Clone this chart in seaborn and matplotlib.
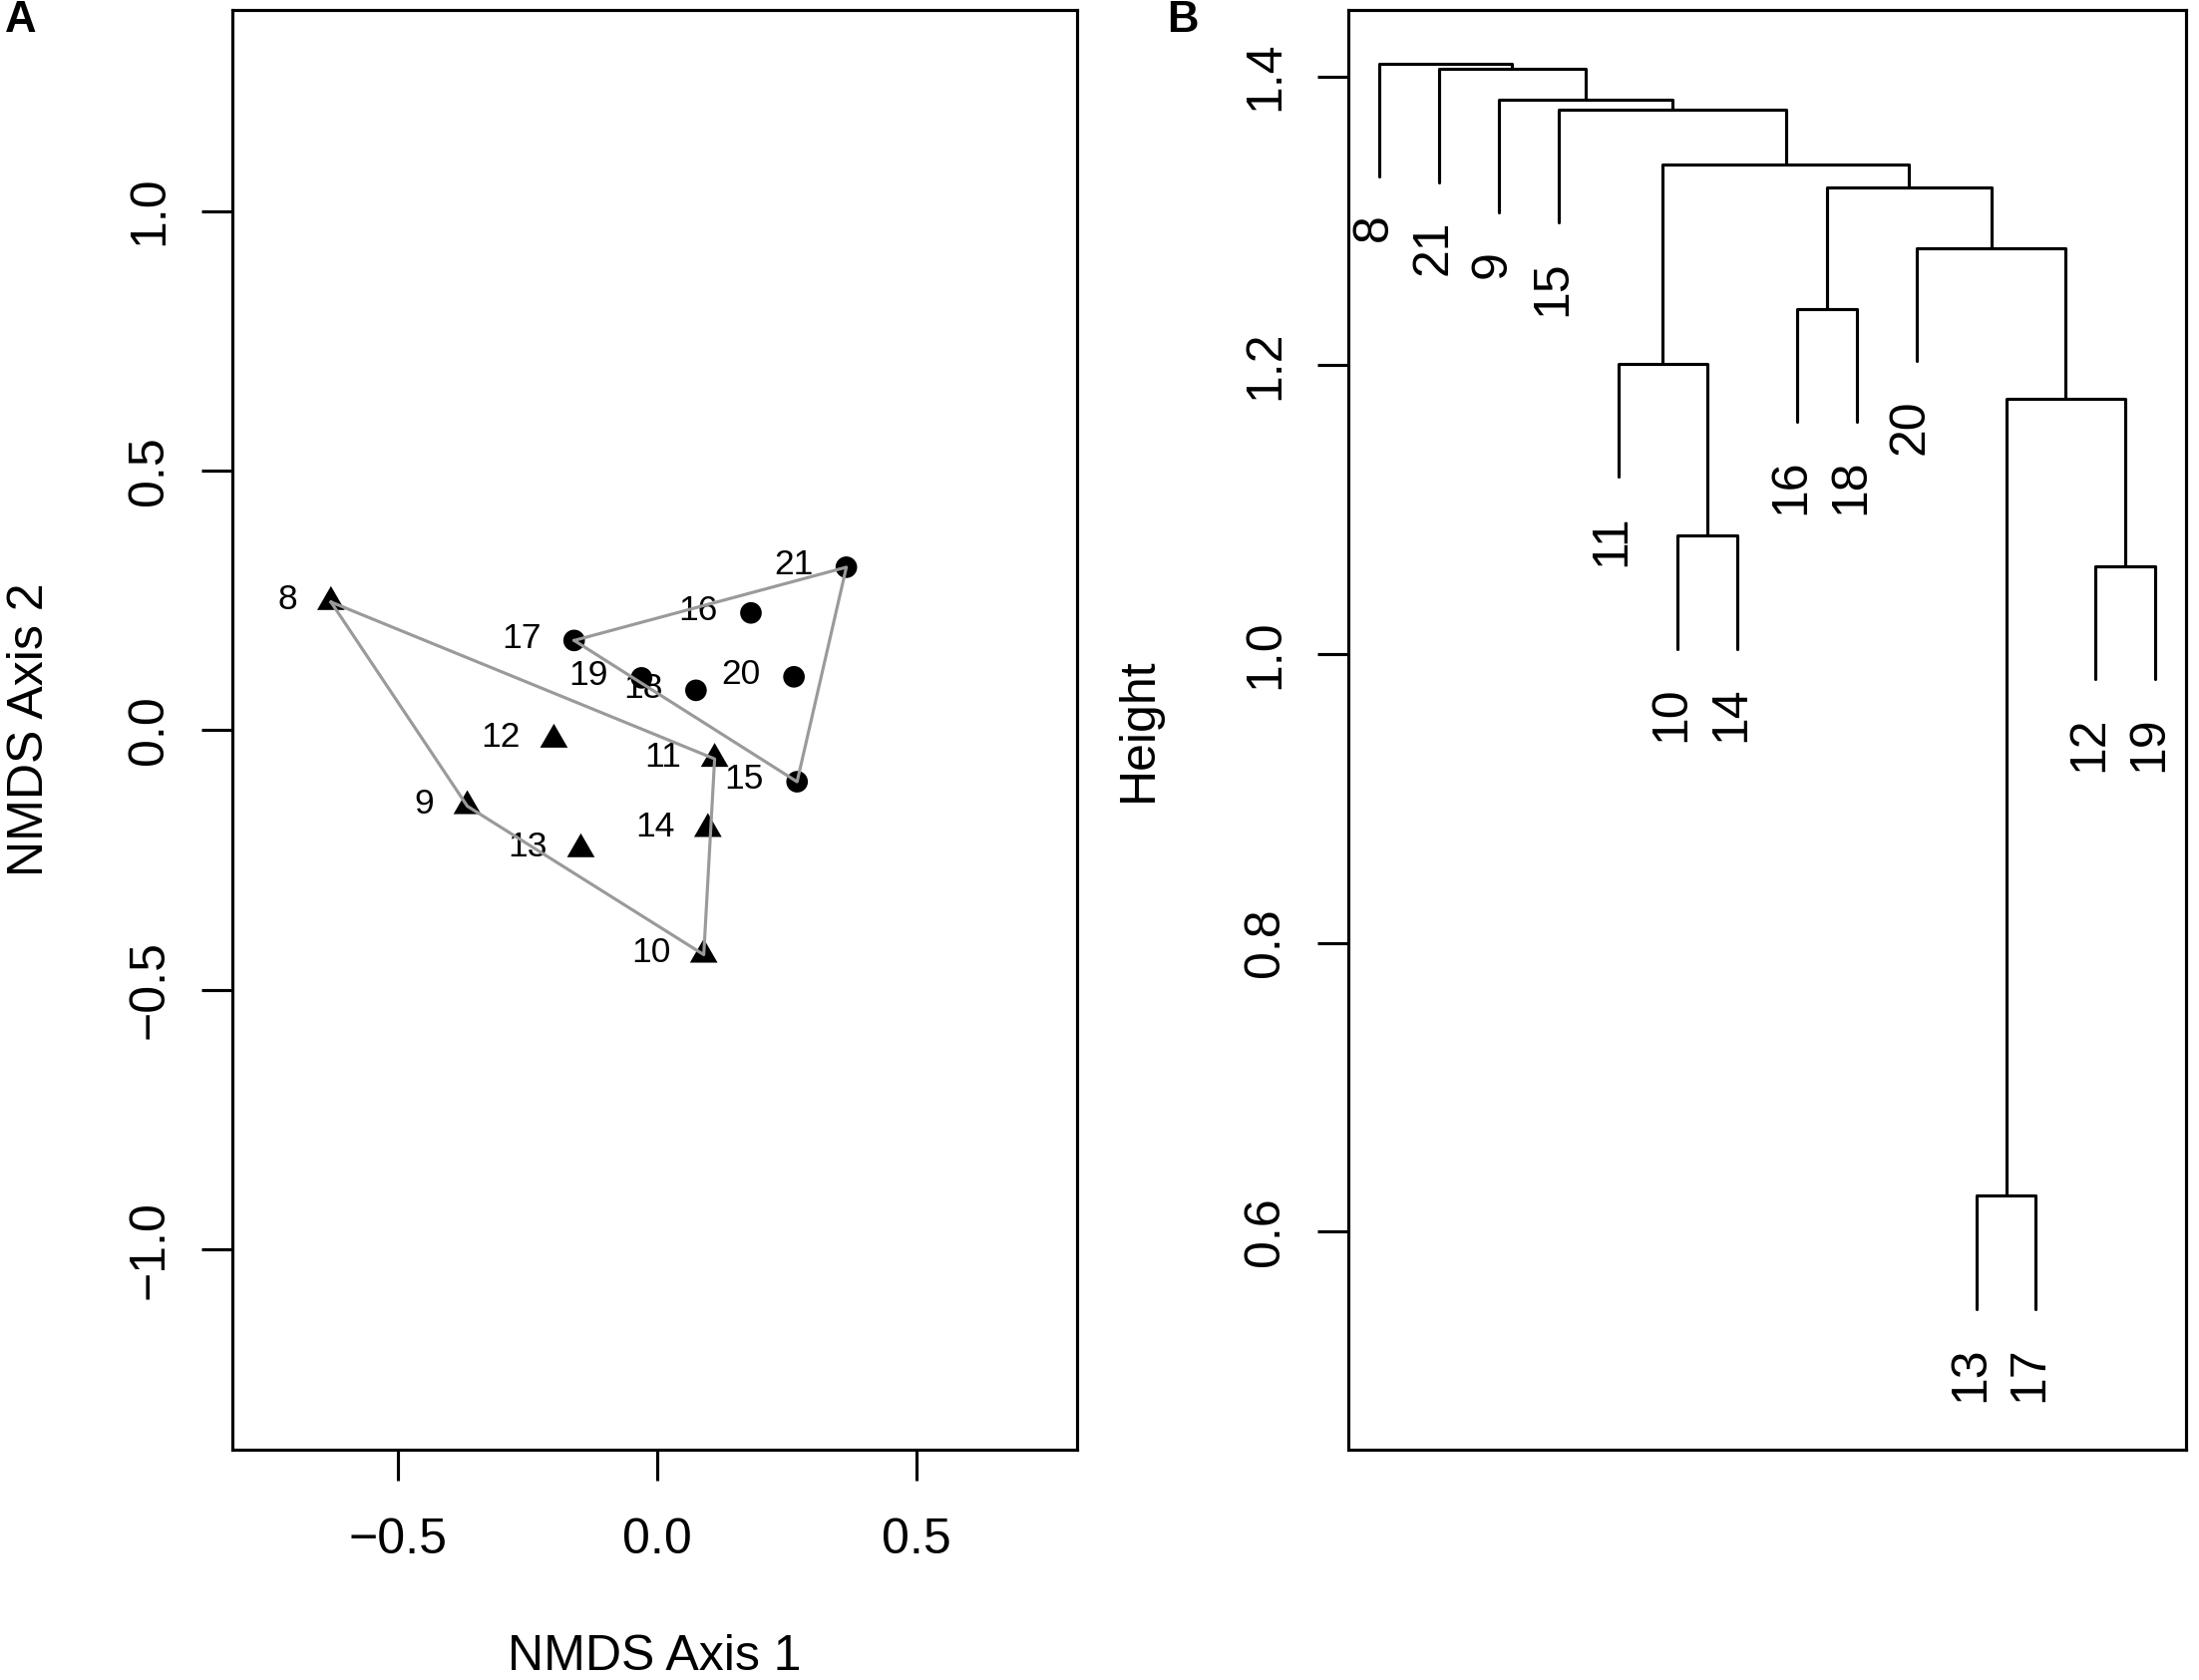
import numpy as np
import pandas as pd
import matplotlib
matplotlib.use("Agg")
import matplotlib.pyplot as plt
from matplotlib.path import Path
import seaborn as sns

# --- panel A: NMDS site scores ---
sites = ['8', '9', '10', '11', '12', '13', '14', '15', '16', '17', '18', '19', '20', '21']
nmds1 = [-0.629, -0.366, 0.090, 0.111, -0.199, -0.147, 0.098,
         0.270, 0.181, -0.160, 0.075, -0.030, 0.264, 0.365]
nmds2 = [0.247, -0.146, -0.432, -0.055, -0.018, -0.229, -0.190,
         -0.099, 0.226, 0.173, 0.077, 0.101, 0.103, 0.314]
groups = ['tri'] * 7 + ['circ'] * 7

# --- panel B: hierarchical clustering (R style merge table) ---
merge_a = [-13, -12, -10, 1, -11, -16, -20, 6, 5, -15, -9, -21, -8]
merge_b = [-17, -19, -14, 2, 3, -18, 4, 7, 8, 9, 10, 11, 12]
heights = [0.625, 1.061, 1.082, 1.177, 1.201, 1.239, 1.281,
           1.323, 1.339, 1.377, 1.384, 1.405, 1.409]
leaf_order = ['8', '21', '9', '15', '11', '10', '14', '16', '18', '20', '13', '17', '12', '19']

sns.set_theme(style='ticks', rc={
    'axes.linewidth': 0.75,
    'xtick.major.width': 0.75, 'ytick.major.width': 0.75,
    'xtick.major.size': 7.4, 'ytick.major.size': 7.4,
    'xtick.major.pad': 9, 'ytick.major.pad': 7,
    'xtick.labelsize': 12, 'ytick.labelsize': 12,
    'axes.labelsize': 12,
    'axes.edgecolor': 'black', 'xtick.color': 'black', 'ytick.color': 'black',
    'text.color': 'black', 'axes.labelcolor': 'black',
})
plt.rcParams['font.family'] = ['Liberation Sans', 'DejaVu Sans']

fig = plt.figure(figsize=(7.35, 5.6167), dpi=300)
axA = fig.add_axes([0.1057, 0.1371, 0.3841, 0.8570])
axB = fig.add_axes([0.6132, 0.1371, 0.3810, 0.8570])

df = pd.DataFrame({'site': sites, 'x': nmds1, 'y': nmds2, 'group': groups})


def convex_hull(pts):
    pts = sorted(pts)
    def cross(o, a, b):
        return (a[0] - o[0]) * (b[1] - o[1]) - (a[1] - o[1]) * (b[0] - o[0])
    lower, upper = [], []
    for p in pts:
        while len(lower) >= 2 and cross(lower[-2], lower[-1], p) <= 0:
            lower.pop()
        lower.append(p)
    for p in reversed(pts):
        while len(upper) >= 2 and cross(upper[-2], upper[-1], p) <= 0:
            upper.pop()
        upper.append(p)
    return lower[:-1] + upper[:-1]


hull_rows = []
for g, sub in df.groupby('group'):
    hull = convex_hull(list(zip(sub['x'], sub['y'])))
    hull.append(hull[0])
    for i, (hx, hy) in enumerate(hull):
        hull_rows.append({'group': g, 'order': i, 'x': hx, 'y': hy})
hull_df = pd.DataFrame(hull_rows)

# site labels left of the points
for _, r in df.iterrows():
    axA.annotate(r['site'], (r['x'], r['y']), xytext=(-8, 0.5), textcoords='offset points',
                 ha='right', va='center', fontsize=8.5, zorder=1)

tri = Path([(0, 1.5551), (1.3468, -0.7776), (-1.3468, -0.7776), (0, 1.5551)],
           [Path.MOVETO, Path.LINETO, Path.LINETO, Path.CLOSEPOLY])
sns.scatterplot(data=df[df['group'] == 'tri'], x='x', y='y', marker=tri, s=59,
                color='black', edgecolor='none', linewidth=0, ax=axA, zorder=2, legend=False)
sns.scatterplot(data=df[df['group'] == 'circ'], x='x', y='y', marker='o', s=27,
                color='black', edgecolor='none', linewidth=0, ax=axA, zorder=2, legend=False)
sns.lineplot(data=hull_df, x='x', y='y', units='group', estimator=None, sort=False,
             color='#9a9a9a', linewidth=0.75, ax=axA, zorder=3, legend=False)

axA.set_xlim(-0.819, 0.810)
axA.set_ylim(-1.385, 1.387)
axA.set_xticks([-0.5, 0.0, 0.5])
axA.set_yticks([-1.0, -0.5, 0.0, 0.5, 1.0])
axA.set_xlabel('NMDS Axis 1', labelpad=17)
axA.set_ylabel('NMDS Axis 2', labelpad=17.8)
for lab in axA.get_yticklabels():
    lab.set_rotation(90)
    lab.set_va('center')

# --- dendrogram ---
leaf_x = {lab: i + 1 for i, lab in enumerate(leaf_order)}
hang = 0.1 * (max(heights) - min(heights))
node_x, node_h = {}, {}
seg_rows = []
for k, (a, b, h) in enumerate(zip(merge_a, merge_b, heights), start=1):
    ends = []
    for c in (a, b):
        if c < 0:
            ends.append((leaf_x[str(-c)], h - hang))
        else:
            ends.append((node_x[c], node_h[c]))
    (xa, ya), (xb, yb) = ends
    for i, (px, py) in enumerate([(xa, ya), (xa, h), (xb, h), (xb, yb)]):
        seg_rows.append({'seg': k, 'order': i, 'x': px, 'y': py})
    node_x[k] = (xa + xb) / 2
    node_h[k] = h
seg_df = pd.DataFrame(seg_rows)
sns.lineplot(data=seg_df, x='x', y='y', units='seg', estimator=None, sort=False,
             color='black', linewidth=0.75, ax=axB, legend=False)

leaf_parent = {}
for a, b, h in zip(merge_a, merge_b, heights):
    for c in (a, b):
        if c < 0:
            leaf_parent[str(-c)] = h
for lab in leaf_order:
    axB.annotate(lab, (leaf_x[lab], leaf_parent[lab] - hang), xytext=(-1.4, -9),
                 textcoords='offset points', rotation=90, rotation_mode='anchor',
                 ha='right', va='center', fontsize=12)

axB.set_xlim(0.48, 14.52)
axB.set_ylim(0.449, 1.446)
axB.set_xticks([])
axB.set_yticks([0.6, 0.8, 1.0, 1.2, 1.4])
axB.set_xlabel('')
axB.set_ylabel('Height', labelpad=19.5)
for lab in axB.get_yticklabels():
    lab.set_rotation(90)
    lab.set_va('center')

for ax in (axA, axB):
    for sp in ax.spines.values():
        sp.set_visible(True)
        sp.set_linewidth(0.75)

fig.text(5 / 2205, 1.0, 'A', ha='left', va='top', fontsize=10.5, fontweight='bold')
fig.text(1170 / 2205, 1.0, 'B', ha='left', va='top', fontsize=10.5, fontweight='bold')

fig.savefig('out.png', dpi=300)
